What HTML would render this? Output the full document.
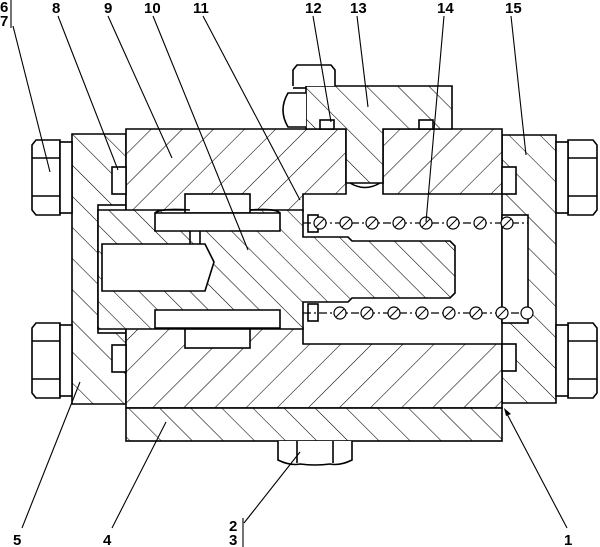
<!DOCTYPE html>
<html><head><meta charset="utf-8"><style>
html,body{margin:0;padding:0;background:#fff;}
svg{display:block;}
text{font-family:"Liberation Sans",sans-serif;font-weight:bold;font-size:15px;fill:#000;}
</style></head><body>
<svg width="600" height="547" viewBox="0 0 600 547" xmlns="http://www.w3.org/2000/svg">
<defs>
<pattern id="hf" patternUnits="userSpaceOnUse" width="22" height="22" patternTransform="rotate(45)">
<rect width="22" height="22" fill="#fff"/><line x1="0" y1="0" x2="0" y2="22" stroke="#000" stroke-width="1.1"/></pattern>
<pattern id="hb" patternUnits="userSpaceOnUse" width="22" height="22" patternTransform="rotate(-45)">
<rect width="22" height="22" fill="#fff"/><line x1="0" y1="0" x2="0" y2="22" stroke="#000" stroke-width="1.1"/></pattern>
<pattern id="hb2" patternUnits="userSpaceOnUse" width="18" height="18" patternTransform="rotate(-45)">
<rect width="18" height="18" fill="#fff"/><line x1="0" y1="0" x2="0" y2="18" stroke="#000" stroke-width="1.1"/></pattern>
</defs>
<g stroke="#000" stroke-width="1.6" fill="none">
<path d="M72,134 H126 V404 H72 Z" fill="url(#hb)"/>
<rect x="98" y="205" width="28" height="128" fill="#fff"/>
<path d="M502,135 H556 V403 H502 Z" fill="url(#hb)"/>
<rect x="502" y="215" width="26" height="108" fill="#fff"/>
<path d="M126,129 H346 V194 H303 V211 H126 Z" fill="url(#hf)"/>
<path d="M383,129 H502 V194 H383 Z" fill="url(#hf)"/>
<path d="M306,86 H452 V129 H383 V183 H346 V129 H306 Z" fill="url(#hb)"/>
<path d="M350,183 Q365,192 380,183" />
<rect x="320" y="120" width="14" height="9" fill="#fff"/>
<rect x="419" y="120" width="14" height="9" fill="#fff"/>
<path d="M293,86 V70 L297,65 H331 L335,70 V86" fill="#fff"/>
<line x1="293" y1="88" x2="306" y2="88"/>
<path d="M306,93 H288 Q278,110 288,127 H306" fill="#fff"/>
<path d="M126,328 H303 V344 H502 V408 H126 Z" fill="url(#hf)"/>
<rect x="126" y="408" width="376" height="33" fill="url(#hb)"/>
<path d="M278,441 V460 Q290,466 300,464 Q315,466 330,464 Q340,466 352,460 V441" fill="#fff"/>
<line x1="297" y1="441" x2="297" y2="463"/><line x1="333" y1="441" x2="333" y2="463"/>
<path d="M98,210 H303 V237 H348 L352,241 H450 L455,246 V293 L450,298 H352 L348,302 H303 V329 H98 Z" fill="url(#hb2)"/>
<path d="M102,244 H205 L214,262 L205,291 H102 Z" fill="#fff"/>
<rect x="185" y="194" width="65" height="19" fill="#fff"/>
<path d="M155,213 H280 V231 H155 Z" fill="#fff"/>
<path d="M155,213 Q160,208 190,210 M280,213 Q275,208 250,210"/>
<rect x="185" y="329" width="65" height="19" fill="#fff"/>
<path d="M155,310 H280 V328 H155 Z" fill="#fff"/>
<line x1="190" y1="231" x2="190" y2="244"/><line x1="200" y1="231" x2="200" y2="244"/>
<rect x="112" y="167" width="14" height="27" fill="#fff"/>
<rect x="112" y="345" width="14" height="27" fill="#fff"/>
<rect x="502" y="167" width="14" height="27" fill="#fff"/>
<rect x="502" y="344" width="14" height="27" fill="#fff"/>
<rect x="308" y="215" width="10" height="17" fill="#fff"/>
<rect x="308" y="304" width="10" height="17" fill="#fff"/>
<path d="M36,140 H60 V215 H36 L32,210 V145 Z" fill="#fff"/>
<line x1="32" y1="158" x2="60" y2="158"/><line x1="32" y1="196" x2="60" y2="196"/>
<rect x="60" y="142" width="12" height="71" fill="#fff"/>
<path d="M36,323 H60 V398 H36 L32,393 V328 Z" fill="#fff"/>
<line x1="32" y1="341" x2="60" y2="341"/><line x1="32" y1="379" x2="60" y2="379"/>
<rect x="60" y="325" width="12" height="71" fill="#fff"/>
<path d="M568,140 H593 L597,145 V210 L593,215 H568 Z" fill="#fff"/>
<line x1="568" y1="158" x2="597" y2="158"/><line x1="568" y1="196" x2="597" y2="196"/>
<rect x="556" y="142" width="12" height="71" fill="#fff"/>
<path d="M568,323 H593 L597,328 V393 L593,398 H568 Z" fill="#fff"/>
<line x1="568" y1="341" x2="597" y2="341"/><line x1="568" y1="379" x2="597" y2="379"/>
<rect x="556" y="325" width="12" height="71" fill="#fff"/>
</g>
<g stroke="#000" stroke-width="1.2" fill="#fff">
<line x1="303" y1="223" x2="528" y2="223" stroke-dasharray="8,3,2,3" fill="none"/>
<line x1="303" y1="313" x2="528" y2="313" stroke-dasharray="8,3,2,3" fill="none"/>
<circle cx="320" cy="223" r="6"/><circle cx="346" cy="223" r="6"/><circle cx="372" cy="223" r="6"/><circle cx="399" cy="223" r="6"/><circle cx="426" cy="223" r="6"/><circle cx="453" cy="223" r="6"/><circle cx="480" cy="223" r="6"/><circle cx="507" cy="223" r="6"/>
<circle cx="340" cy="313" r="6"/><circle cx="367" cy="313" r="6"/><circle cx="394" cy="313" r="6"/><circle cx="422" cy="313" r="6"/><circle cx="449" cy="313" r="6"/><circle cx="476" cy="313" r="6"/><circle cx="502" cy="313" r="6"/><circle cx="527" cy="313" r="6"/>
</g>
<g stroke="#000" stroke-width="1">
<path d="M316,227 L324,219 M342,227 L350,219 M368,227 L376,219 M395,227 L403,219 M422,227 L430,219 M449,227 L457,219 M476,227 L484,219 M503,227 L511,219"/>
<path d="M336,317 L344,309 M363,317 L371,309 M390,317 L398,309 M418,317 L426,309 M445,317 L453,309 M472,317 L480,309 M498,317 L506,309"/>
</g>
<g stroke="#000" stroke-width="1.1">
<line x1="11" y1="0" x2="11" y2="28"/>
<line x1="13" y1="26" x2="50" y2="172"/>
<line x1="58" y1="16" x2="118" y2="170"/>
<line x1="108" y1="16" x2="172" y2="158"/>
<line x1="153" y1="16" x2="248" y2="250"/>
<line x1="203" y1="16" x2="300" y2="200"/>
<line x1="313" y1="16" x2="331" y2="122"/>
<line x1="357" y1="16" x2="368" y2="107"/>
<line x1="444" y1="16" x2="426" y2="222"/>
<line x1="511" y1="16" x2="526" y2="155"/>
<line x1="22" y1="528" x2="80" y2="382"/>
<line x1="112" y1="528" x2="166" y2="422"/>
<line x1="244" y1="523" x2="300" y2="452"/>
<line x1="243" y1="518" x2="243" y2="547"/>
<line x1="567" y1="528" x2="506" y2="412"/>
</g>
<path d="M504,408 L511,414 L506,416 Z" fill="#000"/>
<text x="0" y="12">6</text><text x="0" y="26">7</text>
<text x="52" y="13">8</text><text x="104" y="13">9</text><text x="144" y="13">10</text>
<text x="193" y="13">11</text><text x="305" y="13">12</text><text x="350" y="13">13</text>
<text x="437" y="13">14</text><text x="505" y="13">15</text>
<text x="13" y="545">5</text><text x="103" y="545">4</text>
<text x="229" y="531">2</text><text x="229" y="545">3</text>
<text x="564" y="545">1</text>
</svg>
</body></html>
